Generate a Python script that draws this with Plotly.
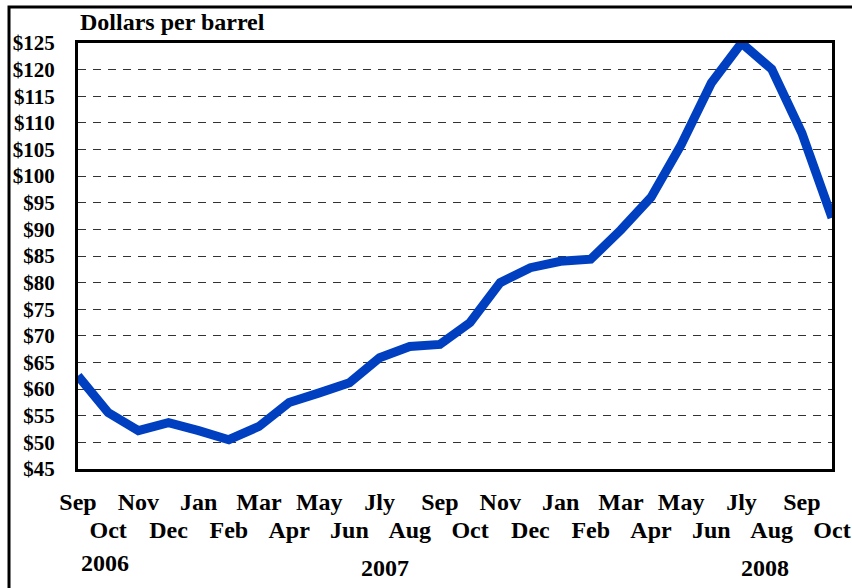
import plotly.graph_objects as go

months = ["Sep", "Oct", "Nov", "Dec", "Jan", "Feb", "Mar", "Apr", "May", "Jun", "Jly", "Aug",
          "Sep", "Oct", "Nov", "Dec", "Jan", "Feb", "Mar", "Apr", "May", "Jun", "Jly", "Aug",
          "Sep", "Oct"]
prices = [62.5, 55.6, 52.2, 53.7, 52.2, 50.5, 53.0, 57.5, 59.3, 61.2, 65.9, 68.0,
          68.4, 72.5, 80.0, 82.8, 84.0, 84.4, 89.9, 96.0, 105.9, 117.5, 125.0, 120.1,
          108.1, 92.2]
years = ["2006", "2007", "2008"]
y_ticks = list(range(45, 130, 5))
y_labels = ["$" + str(v) for v in y_ticks]

FONT = "Liberation Serif"
idx = list(range(len(months)))
even_idx = idx[0::2]
odd_idx = idx[1::2]
even_text = months[0::2]
odd_text = months[1::2]

fig = go.Figure()
fig.add_trace(go.Scatter(
    x=idx, y=prices, mode="lines",
    line=dict(color="#0040C0", width=9),
    hoverinfo="skip", showlegend=False,
))

xrange_ = [0, len(months) - 1]
tickfont = dict(family=FONT, size=24, weight="bold", color="black")

fig.update_layout(
    width=852, height=588,
    margin=dict(l=78, r=20, t=43, b=119),
    paper_bgcolor="white", plot_bgcolor="white",
    font=dict(family=FONT, color="black"),
    showlegend=False,
    xaxis=dict(
        range=xrange_,
        tickmode="array", tickvals=even_idx, ticktext=even_text,
        tickfont=tickfont,
        tickangle=0, automargin=False,
        showgrid=False, zeroline=False,
        showline=True, linecolor="black", linewidth=3, mirror=True,
        ticks="", ticklabelstandoff=9,
    ),
    xaxis2=dict(
        range=xrange_, overlaying="x", side="bottom", anchor="y",
        tickmode="array", tickvals=odd_idx, ticktext=odd_text,
        tickfont=tickfont,
        tickangle=0, automargin=False,
        showgrid=False, zeroline=False, showline=False,
        ticks="", ticklabelstandoff=44,
    ),
    yaxis=dict(
        range=[45, 125],
        tickmode="array", tickvals=y_ticks, ticktext=y_labels,
        tickfont=dict(family=FONT, size=21, weight="bold", color="black"),
        automargin=False,
        showgrid=True, gridcolor="#333333", gridwidth=1, griddash="8px,7px",
        zeroline=False,
        showline=True, linecolor="black", linewidth=3, mirror=True,
        ticks="", ticklabelstandoff=16,
    ),
)

fig.add_trace(go.Scatter(
    x=idx, y=prices, xaxis="x2", mode="lines",
    line=dict(color="rgba(0,0,0,0)", width=0),
    hoverinfo="skip", showlegend=False,
))

fig.add_annotation(
    text="Dollars per barrel", xref="paper", yref="paper",
    x=0.0, y=1.049, xanchor="left", yanchor="middle", showarrow=False,
    font=dict(family=FONT, size=24, weight="bold", color="black"),
)

year_pos = [(0.036, -0.221), (0.407, -0.232), (0.911, -0.232)]
for yr, (px, py) in zip(years, year_pos):
    fig.add_annotation(
        text=yr, xref="paper", yref="paper", x=px, y=py,
        xanchor="center", yanchor="middle", showarrow=False,
        font=dict(family=FONT, size=24, weight="bold", color="black"),
    )

fig.add_shape(
    type="rect", xref="paper", yref="paper",
    x0=-0.0915, x1=1.035, y0=-0.4, y1=1.0845,
    line=dict(color="black", width=3), fillcolor="rgba(0,0,0,0)", layer="below",
)

fig.write_html("out.html", config={"displayModeBar": False},
               post_script="document.body.style.margin='0';")
